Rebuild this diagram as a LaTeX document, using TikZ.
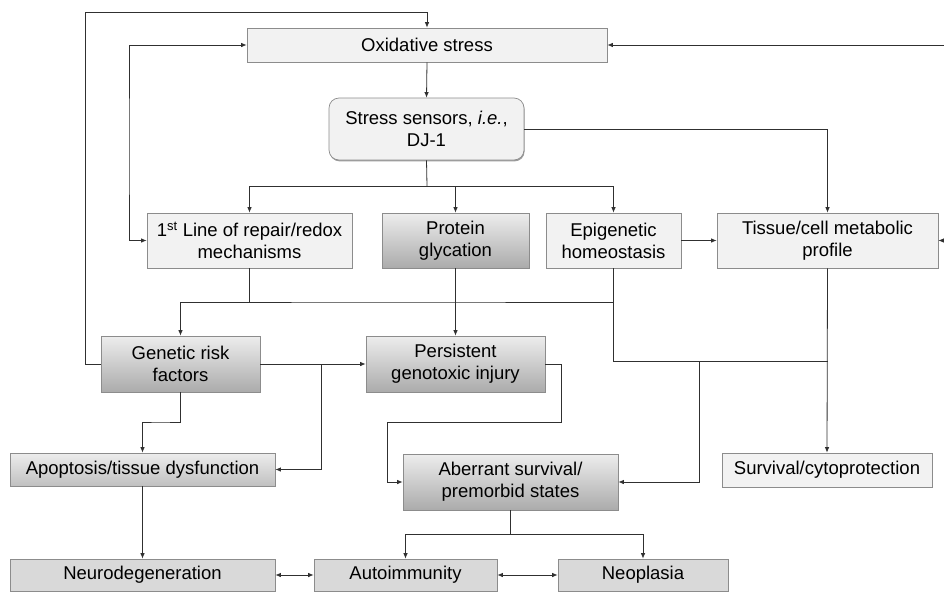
\documentclass[tikz,border=0pt]{standalone}
\usepackage{fontspec}
\setmainfont{Liberation Sans}
\usetikzlibrary{arrows.meta,shadows}
\definecolor{lightbox}{HTML}{F2F2F2}
\definecolor{midbox}{HTML}{D9D9D9}
\definecolor{gradtop}{HTML}{EDEDED}
\definecolor{gradbot}{HTML}{ABABAB}
\definecolor{gradbotl}{HTML}{C0C0C0}
\definecolor{edgecol}{HTML}{8C8C8C}
\definecolor{linecol}{HTML}{303030}
\begin{document}
\begin{tikzpicture}[x=1pt,y=-1pt,
  box/.style={draw=edgecol, line width=0.7pt, inner sep=0pt, align=center,
    font=\fontsize{18.5}{22}\selectfont,
    drop shadow={shadow xshift=0.6pt, shadow yshift=-1.4pt, fill=black!55, opacity=0.7}},
  flatbox/.style={box, fill=lightbox},
  midflat/.style={box, fill=midbox},
  gradbox/.style={box, top color=gradtop, bottom color=gradbot},
  gradlight/.style={box, top color=gradtop, bottom color=gradbotl},
  conn/.style={draw=linecol, line width=0.8pt},
  arr/.style={conn, -{Latex[length=5.5pt,width=4.5pt]}},
  darr/.style={conn, {Latex[length=5.5pt,width=4.5pt]}-{Latex[length=5.5pt,width=4.5pt]}}
]
\useasboundingbox (0,0) rectangle (944,592);

% nodes
\node[flatbox, minimum width=360pt, minimum height=34pt] (ox) at (427,45) {Oxidative stress};
\node[flatbox, rounded corners=10pt, minimum width=195pt, minimum height=62pt] (ss) at (426.5,129) {Stress sensors, \textit{i.e.},\\DJ-1};
\node[flatbox, minimum width=205pt, minimum height=55pt] (l1) at (249.5,240.5) {1\textsuperscript{st} Line of repair/redox\\mechanisms};
\node[gradbox, minimum width=147pt, minimum height=55pt] (prot) at (455.5,240.5) {Protein\\glycation};
\node[flatbox, minimum width=135pt, minimum height=55pt] (epi) at (613.5,240.5) {Epigenetic\\homeostasis};
\node[flatbox, minimum width=221pt, minimum height=55pt] (tis) at (827.5,240.5) {Tissue/cell metabolic\\profile};
\node[gradbox, minimum width=159pt, minimum height=56pt] (gen) at (180.5,364) {Genetic risk\\factors};
\node[gradbox, minimum width=179pt, minimum height=56pt] (pers) at (455.5,364) {Persistent\\genotoxic injury};
\node[gradlight, minimum width=265pt, minimum height=33pt] (apo) at (142.5,469.5) {Apoptosis/tissue dysfunction};
\node[gradbox, minimum width=215pt, minimum height=56pt] (ab) at (510.5,482) {Aberrant survival/\\premorbid states};
\node[flatbox, minimum width=210pt, minimum height=34pt] (surv) at (827,470) {Survival/cytoprotection};
\node[midflat, minimum width=265pt, minimum height=32pt] (neu) at (142.5,575) {Neurodegeneration};
\node[midflat, minimum width=183pt, minimum height=32pt] (aut) at (405.5,575) {Autoimmunity};
\node[midflat, minimum width=170pt, minimum height=32pt] (neo) at (643,575) {Neoplasia};

% helper coordinates
\coordinate (ctop) at (85,12);
\coordinate (cleft) at (129,150);
\coordinate (r1) at (944,45);
\coordinate (r2) at (944,240.5);
\coordinate (j1) at (427,186);
\coordinate (j2) at (400,302);
\coordinate (j3) at (699,361);
\coordinate (j4) at (321,364);
\coordinate (c3) at (561,422);
\coordinate (c4) at (387,422);
\coordinate (c5) at (160,422);
\coordinate (j5) at (510.5,534);

% connectors
\draw[arr] (ox.south) -- (ss.north);
\draw[arr] (gen.west) -| (ctop) -| (ox.north);
\draw[darr] (ox.west) -| (cleft) |- (l1.west);
\draw[arr] (r1) -- (ox.east);
\draw[arr] (r2) -- (tis.east);
\draw[arr] (ss.east) -| (tis.north);
\draw[conn] (ss.south) -- (j1);
\draw[arr] (j1) -| (l1.north);
\draw[arr] (j1) -| (epi.north);
\draw[arr] (prot.north |- j1) -- (prot.north);
\draw[arr] (epi.east) -- (tis.west);
\draw[conn] (l1.south) -- (l1.south |- j2);
\draw[arr] (epi.south) |- (j2) -| (gen.north);
\draw[conn] (epi.south) |- (tis.south |- j3);
\draw[arr] (tis.south) -- (surv.north);
\draw[arr] (j3) |- (ab.east);
\draw[arr] (prot.south) -- (pers.north);
\draw[arr] (gen.east) -- (pers.west);
\draw[arr] (j4) |- (apo.east);
\draw[arr] (pers.east) -| (c3) -- (c4) |- (ab.west);
\draw[arr] (gen.south) |- (c5) -| (apo.north);
\draw[arr] (apo.south) -- (neu.north);
\draw[darr] (neu.east) -- (aut.west);
\draw[darr] (aut.east) -- (neo.west);
\draw[conn] (ab.south) -- (j5);
\draw[arr] (j5) -| (aut.north);
\draw[arr] (j5) -| (neo.north);
\end{tikzpicture}
\end{document}
